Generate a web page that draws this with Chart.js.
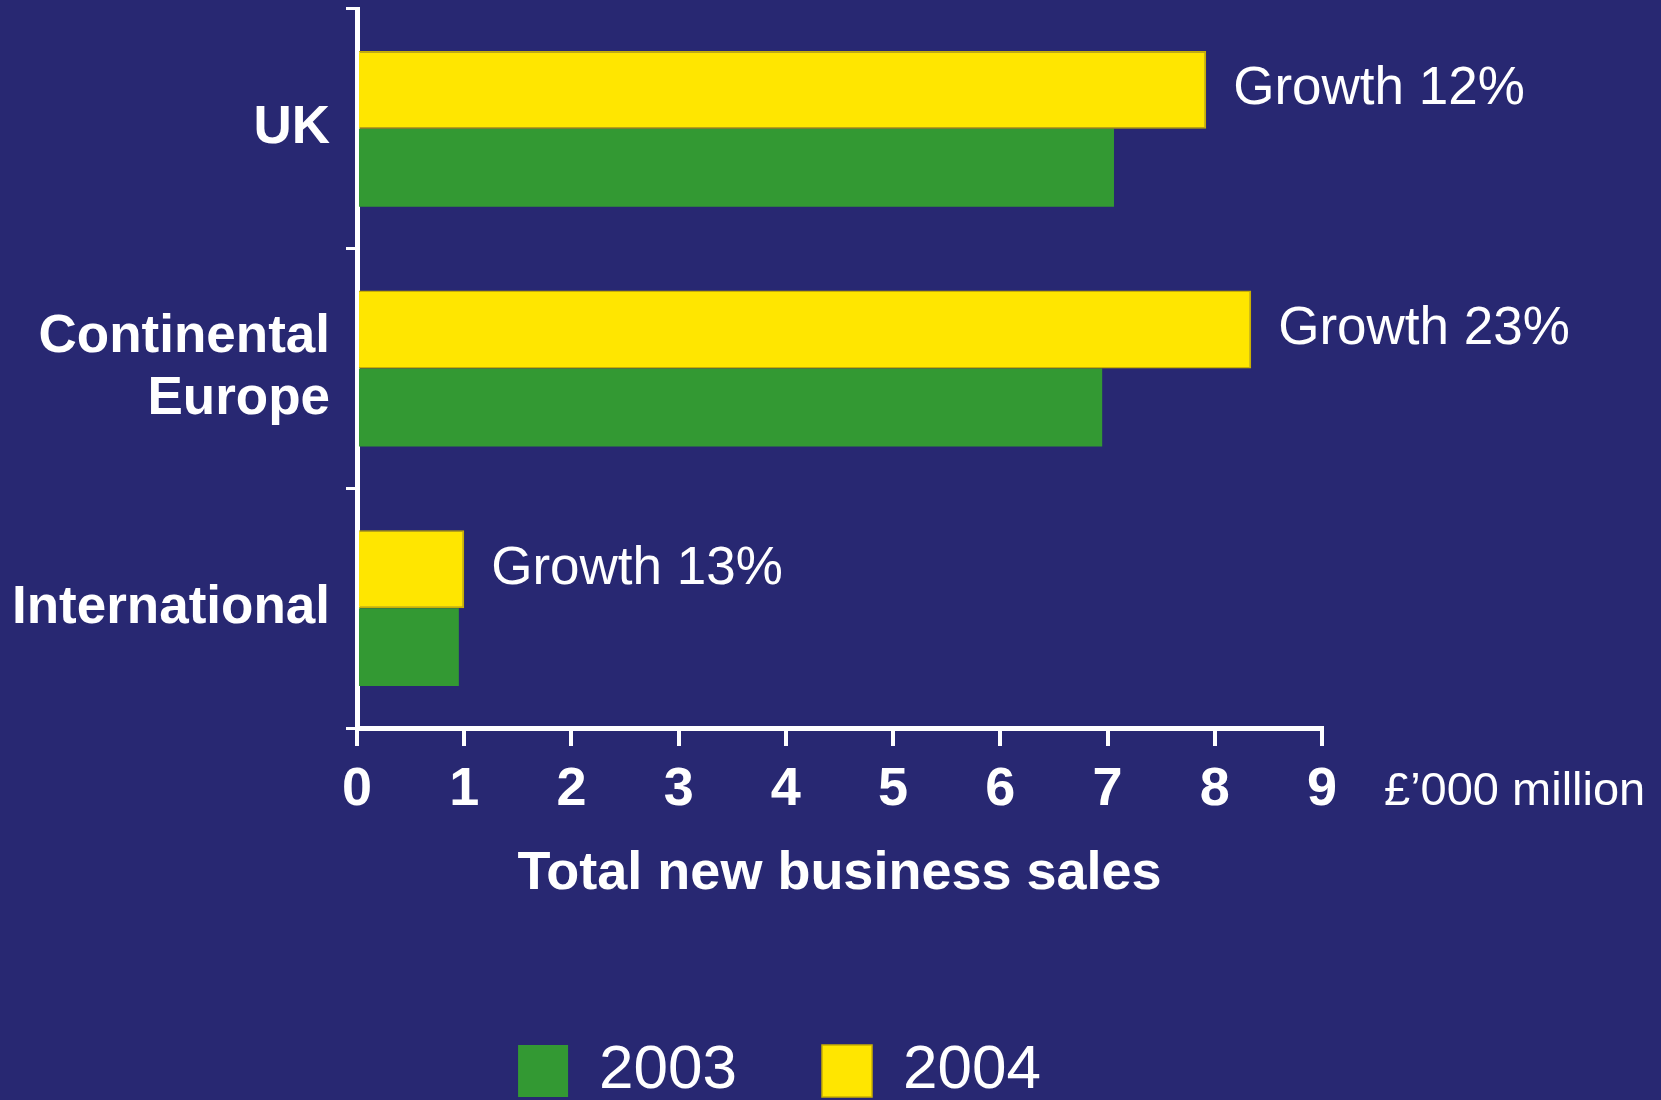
<!DOCTYPE html>
<html>
<head>
<meta charset="utf-8">
<title>Total new business sales</title>
<script src="https://cdn.jsdelivr.net/npm/chart.js@4.4.0/dist/chart.umd.min.js"></script>
<style>
  html, body { margin: 0; padding: 0; background: #282872; }
  #wrap { position: relative; width: 1661px; height: 1100px; }
</style>
</head>
<body>
<div id="wrap"><canvas id="salesChart"></canvas></div>
<script>
// values, £'000 million
var regions = ['UK', ['Continental', 'Europe'], 'International'];
var sales2003 = [7.06, 6.95, 0.95];
var sales2004 = [7.92, 8.34, 1.00];
var growthLabels = ['Growth 12%', 'Growth 23%', 'Growth 13%'];
var seriesNames = ['2003', '2004'];
var unitLabel = '£’000 million';
var axisTitle = 'Total new business sales';

var FONT = '"Liberation Sans", Arial, Helvetica, sans-serif';
Chart.defaults.font.family = FONT;
Chart.defaults.color = '#ffffff';

// growth text next to the 2004 bars, plus the unit after the last tick
var growthPlugin = {
    id: 'growthText',
    afterDatasetsDraw: function (chart) {
        var ctx = chart.ctx;
        var meta = chart.getDatasetMeta(0); // 2004 bars
        ctx.save();
        ctx.fillStyle = '#ffffff';
        ctx.textAlign = 'left';
        ctx.textBaseline = 'middle';
        ctx.font = '53px ' + FONT;
        meta.data.forEach(function (bar, i) {
            ctx.fillText(growthLabels[i], bar.x + 27, bar.y);
        });
        var xs = chart.scales.x;
        ctx.font = '47px ' + FONT;
        ctx.fillText(unitLabel, xs.right + 62, xs.top + 64);
        ctx.restore();
    }
};

var ctx = document.getElementById('salesChart').getContext('2d');
var salesChart = new Chart(ctx, {
    type: 'bar',
    data: {
        labels: regions,
        datasets: [{
            label: seriesNames[1],
            data: sales2004,
            backgroundColor: '#ffe600',
            borderColor: '#c9b000',
            borderWidth: 1.5,
            borderSkipped: 'start'
        }, {
            label: seriesNames[0],
            data: sales2003,
            backgroundColor: '#339933',
            borderWidth: 0
        }]
    },
    options: {
        indexAxis: 'y',
        responsive: true,
        maintainAspectRatio: false,
        animation: false,
        devicePixelRatio: 1,
        datasets: {
            bar: { barPercentage: 1.0, categoryPercentage: 0.65 }
        },
        layout: {
            padding: { top: 9, left: 0, right: 102, bottom: -12 }
        },
        scales: {
            x: {
                min: 0,
                max: 9,
                ticks: {
                    stepSize: 1,
                    color: '#ffffff',
                    padding: 12,
                    font: { size: 54, weight: 'bold' }
                },
                grid: {
                    drawOnChartArea: false,
                    drawTicks: true,
                    tickLength: 18,
                    color: '#ffffff',
                    lineWidth: 4
                },
                border: { display: true, color: '#ffffff', width: 5 },
                title: {
                    display: true,
                    text: axisTitle,
                    color: '#ffffff',
                    font: { size: 54, weight: 'bold' },
                    padding: { top: 0, bottom: 48 }
                },
                afterFit: function (s) {
                    s.height = 227;
                    s.paddingRight = 339;
                }
            },
            y: {
                offset: true,
                ticks: {
                    color: '#ffffff',
                    padding: 16,
                    font: { size: 53, weight: 'bold', lineHeight: 1.18 }
                },
                grid: {
                    offset: true,
                    drawOnChartArea: false,
                    drawTicks: true,
                    tickLength: 11,
                    color: '#ffffff',
                    lineWidth: 3
                },
                border: { display: true, color: '#ffffff', width: 5 },
                afterFit: function (s) {
                    s.width = 357;
                    s.paddingTop = 0;
                    s.paddingBottom = 0;
                }
            }
        },
        plugins: {
            legend: {
                position: 'bottom',
                reverse: true,
                labels: {
                    color: '#ffffff',
                    font: { size: 62 },
                    boxWidth: 50,
                    boxHeight: 52,
                    padding: 85
                }
            },
            tooltip: { enabled: false }
        }
    },
    plugins: [growthPlugin]
});
</script>
</body>
</html>
